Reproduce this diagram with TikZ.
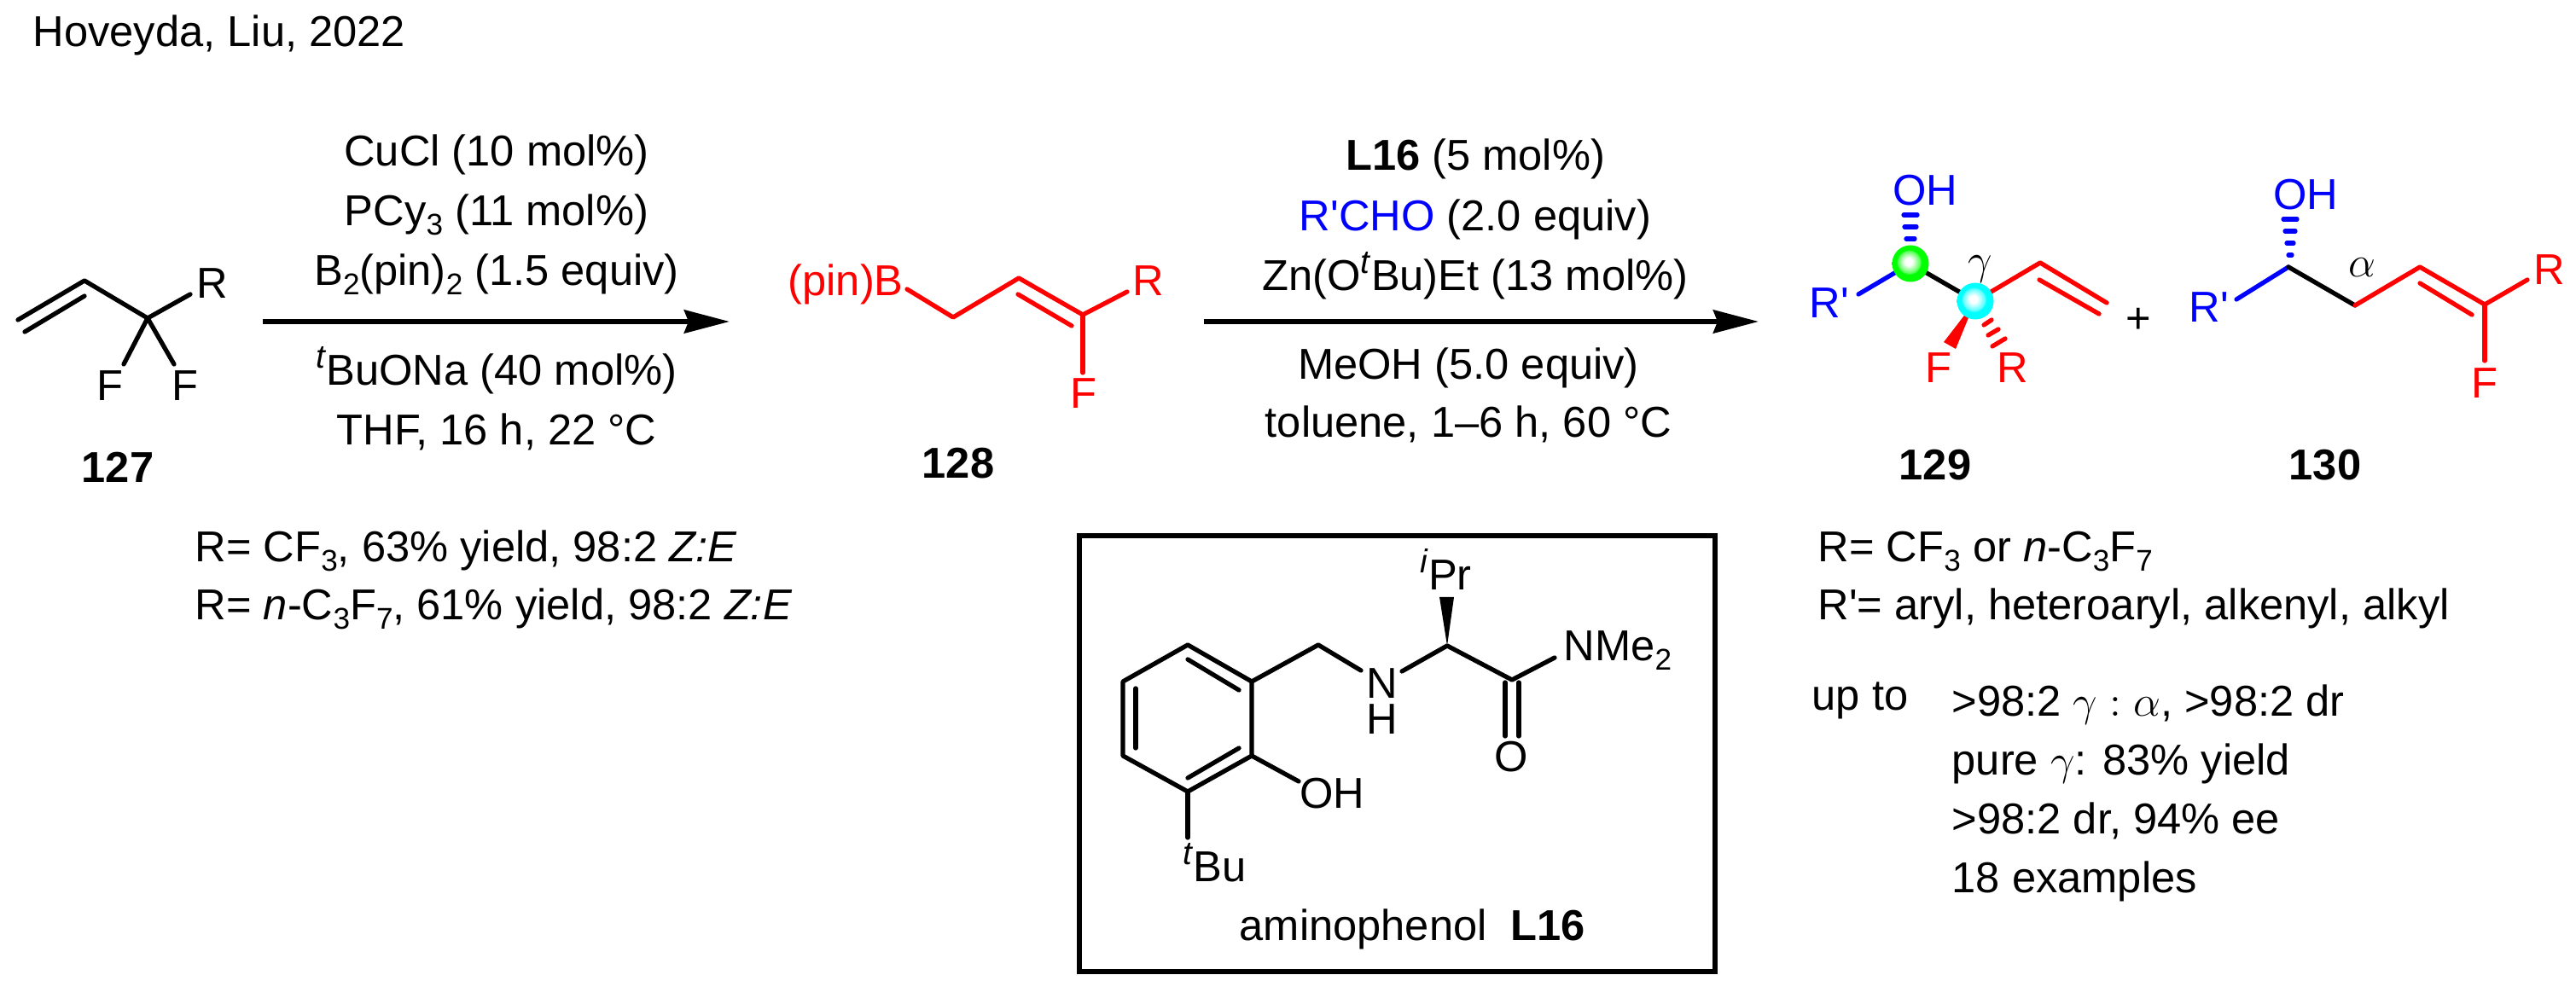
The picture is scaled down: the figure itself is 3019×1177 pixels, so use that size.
\documentclass[tikz,border=0pt]{standalone}
\usepackage{fontspec}
\setmainfont{Liberation Sans}
\usetikzlibrary{arrows.meta}

\newcommand{\subnum}[1]{\raisebox{-2.9pt}{\fontsize{10}{10}\selectfont #1}}
\newcommand{\supit}[1]{\raisebox{5.7pt}{\fontsize{11}{11}\selectfont\textit{#1}}}
\newcommand{\rprime}{R\textquotesingle}

\pgfdeclareradialshading{greenglow}{\pgfpoint{-3bp}{3bp}}{color(0bp)=(white); color(5bp)=(white); color(15bp)=(green!65!white); color(17bp)=(green); color(50bp)=(green)}
\pgfdeclareradialshading{cyanglow}{\pgfpoint{-3bp}{3bp}}{color(0bp)=(white); color(5bp)=(white); color(15bp)=(cyan!65!white); color(17bp)=(cyan); color(50bp)=(cyan)}

\tikzset{
	lbl/.style={inner sep=0pt, anchor=base, font=\fontsize{14.4}{17}\selectfont},
	lblw/.style={lbl, anchor=base west},
	bond/.style={line width=1.5pt, line cap=round, line join=round},
	hash/.style={line width=1.5pt, line cap=round},
	rxnarrow/.style={line width=1.7pt, -{Stealth[length=0.53cm, width=0.27cm, inset=0.05cm]}},
	ballnode/.style={circle, inner sep=0pt, minimum size=0.43cm}
}

\begin{document}
\begin{tikzpicture}[x=0.01cm, y=-0.01cm]
	\useasboundingbox (0,0) rectangle (3019,1177);

	\node[lblw] (source) at (38,55) {Hoveyda, Liu, 2022};

	\coordinate (a1) at (21,375);
	\coordinate (a2) at (99,329);
	\coordinate (a2i) at (99,347);
	\coordinate (a1i) at (29,389);
	\coordinate (a3) at (173,373);
	\coordinate (aR) at (223,345);
	\coordinate (aF1) at (145,427);
	\coordinate (aF2) at (204,427);
	\draw[bond] (a1) -- (a2) -- (a3) -- (aR);
	\draw[bond] (a1i) -- (a2i);
	\draw[bond] (a3) -- (aF1);
	\draw[bond] (a3) -- (aF2);
	\node[lbl] (Ra) at (249,350) {R};
	\node[lbl] (Fa) at (129,470) {F};
	\node[lbl] (Fb) at (217,470) {F};
	\node[lbl] (cmpa) at (138,566) {\textbf{127}};

	\coordinate (arrAs) at (308,377);
	\coordinate (arrAe) at (855,377);
	\draw[rxnarrow] (arrAs) -- (arrAe);
	\node[lbl] (cucl) at (582,195) {CuCl (10 mol\%)};
	\node[lbl] (pcy) at (582,265) {PCy\subnum{3} (11 mol\%)};
	\node[lbl] (bpin) at (582,335) {B\subnum{2}(pin)\subnum{2} (1.5 equiv)};
	\node[lbl] (buona) at (582,452) {\supit{t}BuONa (40 mol\%)};
	\node[lbl] (thf) at (582,522) {THF, 16 h, 22 °C};

	\coordinate (b1) at (1063,339);
	\coordinate (b2) at (1117,372);
	\coordinate (b3) at (1194,326);
	\coordinate (b4) at (1269,369);
	\coordinate (b3i) at (1193,345);
	\coordinate (b4i) at (1256,382);
	\coordinate (bR) at (1321,342);
	\coordinate (bF) at (1269,437);
	\draw[bond, red] (b1) -- (b2) -- (b3) -- (b4) -- (bR);
	\draw[bond, red] (b3i) -- (b4i);
	\draw[bond, red] (b4) -- (bF);
	\node[lblw, text=red] (pinB) at (923,347) {(pin)B};
	\node[lbl, text=red] (Rb) at (1346,347) {R};
	\node[lbl, text=red] (Fc) at (1270,479) {F};
	\node[lbl] (cmpb) at (1123,561) {\textbf{128}};

	\coordinate (arrBs) at (1411,377);
	\coordinate (arrBe) at (2061,377);
	\draw[rxnarrow] (arrBs) -- (arrBe);
	\node[lbl] (ligload) at (1729,200) {\textbf{L16} (5 mol\%)};
	\node[lbl] (aldehyde) at (1729,271) {\textcolor{blue}{\rprime CHO} (2.0 equiv)};
	\node[lbl] (zinc) at (1729,341) {Zn(O\supit{t}Bu)Et (13 mol\%)};
	\node[lbl] (meoh) at (1721,445) {MeOH (5.0 equiv)};
	\node[lbl] (toluene) at (1721,513) {toluene, 1--6 h, 60 °C};

	\coordinate (c1) at (2178,345);
	\coordinate (c2) at (2239,309);
	\coordinate (c3) at (2315,353);
	\coordinate (c4) at (2391,308);
	\coordinate (c5) at (2469,355);
	\coordinate (c4i) at (2390,328);
	\coordinate (c5i) at (2460,368);
	\draw[bond, blue] (c1) -- (c2);
	\draw[bond] (c2) -- (c3);
	\draw[bond, red] (c3) -- (c4) -- (c5);
	\draw[bond, red] (c4i) -- (c5i);
	\fill[red] (c3) -- (2278,401) -- (2292,409) -- cycle;
	\draw[hash, red] (2325,381) -- (2334,375);
	\draw[hash, red] (2330,393) -- (2342,386);
	\draw[hash, red] (2335,406) -- (2350,397);
	\draw[hash, blue] (2231,252) -- (2247,252);
	\draw[hash, blue] (2232,266) -- (2246,266);
	\draw[hash, blue] (2234,280) -- (2244,280);
	\node[lbl] (gam) at (2321,322) {$\gamma$};
	\node[ballnode, shading=greenglow] (ballA) at (c2) {};
	\node[ballnode, shading=cyanglow] (ballB) at (c3) {};
	\node[lbl, text=blue] (OHa) at (2256,241) {OH};
	\node[lbl, text=blue] (Rpa) at (2144,373) {\rprime};
	\node[lbl, text=red] (Fd) at (2272,449) {F};
	\node[lbl, text=red] (Rc) at (2359,449) {R};
	\node[lbl] (cmpc) at (2268,563) {\textbf{129}};
	\node[lbl] (plus) at (2506,391) {+};

	\coordinate (d1) at (2621,351);
	\coordinate (d2) at (2682,313);
	\coordinate (d3) at (2760,358);
	\coordinate (d4) at (2836,313);
	\coordinate (d5) at (2912,357);
	\coordinate (d4i) at (2836,332);
	\coordinate (d5i) at (2897,369);
	\coordinate (dR) at (2962,328);
	\coordinate (dF) at (2912,423);
	\draw[bond, blue] (d1) -- (d2);
	\draw[bond] (d2) -- (d3);
	\draw[bond, red] (d3) -- (d4) -- (d5) -- (dR);
	\draw[bond, red] (d4i) -- (d5i);
	\draw[bond, red] (d5) -- (dF);
	\draw[hash, blue] (2676,257) -- (2692,257);
	\draw[hash, blue] (2678,271) -- (2690,271);
	\draw[hash, blue] (2680,285) -- (2688,285);
	\draw[hash, blue] (2682,299) -- (2686,299);
	\node[lbl, text=blue] (OHb) at (2702,246) {OH};
	\node[lbl, text=blue] (Rpb) at (2589,378) {\rprime};
	\node[lbl, text=red] (Rd) at (2988,334) {R};
	\node[lbl, text=red] (Fe) at (2912,467) {F};
	\node[lbl] (alp) at (2768,325) {$\alpha$};
	\node[lbl] (cmpd) at (2725,563) {\textbf{130}};

	\node[lblw] (scopeA) at (228,659) {R= CF\subnum{3}, 63\% yield, 98:2 \textit{Z:E}};
	\node[lblw] (scopeB) at (228,727) {R= \textit{n}-C\subnum{3}F\subnum{7}, 61\% yield, 98:2 \textit{Z:E}};
	\node[lblw] (scopeC) at (2130,659) {R= CF\subnum{3} or \textit{n}-C\subnum{3}F\subnum{7}};
	\node[lblw] (scopeD) at (2130,727) {\rprime= aryl, heteroaryl, alkenyl, alkyl};
	\node[lblw] (upto) at (2123,833) {up to};
	\node[lblw] (resA) at (2287,840) {>98:2 $\gamma:\alpha$, >98:2 dr};
	\node[lblw] (resB) at (2287,909) {pure $\gamma$: 83\% yield};
	\node[lblw] (resC) at (2287,978) {>98:2 dr, 94\% ee};
	\node[lblw] (resD) at (2287,1047) {18 examples};

	\coordinate (boxNW) at (1265,628);
	\coordinate (boxSE) at (2010,1139);
	\draw[line width=1.6pt] (boxNW) rectangle (boxSE);

	\coordinate (r1) at (1392,756);
	\coordinate (r2) at (1467,799);
	\coordinate (r3) at (1467,886);
	\coordinate (r4) at (1392,928);
	\coordinate (r5) at (1316,886);
	\coordinate (r6) at (1316,799);
	\coordinate (r1i) at (1392,773);
	\coordinate (r2i) at (1452,809);
	\coordinate (r3i) at (1452,877);
	\coordinate (r4i) at (1392,912);
	\coordinate (r5i) at (1331,877);
	\coordinate (r6i) at (1331,807);
	\draw[bond] (r1) -- (r2) -- (r3) -- (r4) -- (r5) -- (r6) -- cycle;
	\draw[bond] (r1i) -- (r2i);
	\draw[bond] (r3i) -- (r4i);
	\draw[bond] (r5i) -- (r6i);
	\coordinate (lig1) at (1545,756);
	\coordinate (lig2) at (1595,786);
	\coordinate (lig3) at (1643,787);
	\coordinate (lig4) at (1696,757);
	\coordinate (lig5) at (1772,797);
	\coordinate (lig6) at (1822,771);
	\coordinate (ligOH) at (1522,916);
	\coordinate (ligtBu) at (1392,982);
	\draw[bond] (r2) -- (lig1) -- (lig2);
	\draw[bond] (lig3) -- (lig4) -- (lig5) -- (lig6);
	\draw[bond] (r3) -- (ligOH);
	\draw[bond] (r4) -- (ligtBu);
	\draw[bond] (1764,800) -- (1764,863);
	\draw[bond] (1780,800) -- (1780,863);
	\fill (lig4) -- (1687,700) -- (1704,700) -- cycle;
	\node[lbl] (ligN) at (1620,819) {N};
	\node[lbl] (ligH) at (1620,861) {H};
	\node[lbl] (ligO) at (1771,905) {O};
	\node[lblw] (ligNMe) at (1832,775) {NMe\subnum{2}};
	\node[lbl] (ligOHl) at (1561,948) {OH};
	\node[lblw] (ligPr) at (1664,692) {\supit{i}Pr};
	\node[lblw] (ligBu) at (1386,1034) {\supit{t}Bu};
	\node[lblw] (ligname) at (1452,1102) {aminophenol\ \ \textbf{L16}};
\end{tikzpicture}
\end{document}
